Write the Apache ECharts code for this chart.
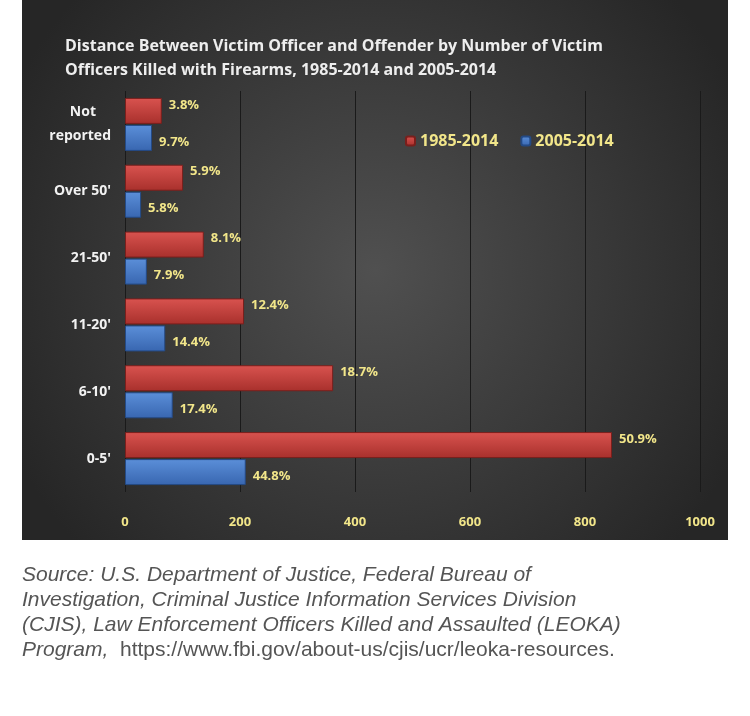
<!DOCTYPE html>
<html><head><meta charset="utf-8">
<script src="https://cdn.jsdelivr.net/npm/echarts@6/dist/echarts.min.js"></script>
<style>html,body{margin:0;background:#fff}#c{width:750px;height:716px}</style>
</head><body><div id="c"></div>
<script>
// data
const categories = ["0-5'", "6-10'", "11-20'", "21-50'", "Over 50'", "Not\nreported"];
const values8514 = [847, 362, 207, 137, 101, 64];
const values0514 = [210, 83, 70, 38, 28, 47];
const pct8514 = ["50.9%", "18.7%", "12.4%", "8.1%", "5.9%", "3.8%"];
const pct0514 = ["44.8%", "17.4%", "14.4%", "7.9%", "5.8%", "9.7%"];
const xTicks = [0, 200, 400, 600, 800, 1000];

const chart = echarts.init(document.getElementById("c"));

function labelFor(pcts) {
    return {
        show: true, position: "right", offset: [2, -6],
        color: "#f2e68a", fontWeight: "bold", fontSize: 13,
        fontFamily: "Open Sans",
        formatter: p => pcts[p.dataIndex]
    };
}

chart.setOption({
    backgroundColor: "#fff",
    graphic: [
        { type: "rect", z: -10, shape: { x: 22, y: 0, width: 706, height: 540 },
          style: { fill: { type: "radial", x: 0.5, y: 0.5, r: 0.75,
              colorStops: [{ offset: 0, color: "#505050" }, { offset: 1, color: "#262626" }] } } },
        { type: "text", left: 65, top: 34, style: {
            text: "Distance Between Victim Officer and Offender by Number of Victim\nOfficers Killed with Firearms, 1985-2014 and 2005-2014",
            fill: "#eeeeee", font: "bold 16px 'Open Sans'", lineHeight: 24 } },
        { type: "text", left: 22, top: 563, style: {
            text: "Source: U.S. Department of Justice, Federal Bureau of\nInvestigation, Criminal Justice Information Services Division\n(CJIS), Law Enforcement Officers Killed and Assaulted (LEOKA)\nProgram,",
            fill: "#555", font: "italic 21px 'Liberation Sans'", lineHeight: 25 } },
        { type: "text", left: 120, top: 640, style: {
            text: "https://www.fbi.gov/about-us/cjis/ucr/leoka-resources.",
            fill: "#555", font: "21px 'Liberation Sans'" } }
    ],
    legend: {
        top: 128, left: 400, itemWidth: 9, itemHeight: 9, itemGap: 22,
        textStyle: { color: "#f2e68a", fontSize: 16, fontWeight: "bold", fontFamily: "Open Sans" },
        data: ["1985-2014", "2005-2014"]
    },
    grid: { left: 125, right: 50, top: 91, bottom: 224 },
    xAxis: {
        type: "value", min: 0, max: 1000, interval: 200,
        axisLine: { show: false }, axisTick: { show: false },
        splitLine: { lineStyle: { color: "#1a1a1a", width: 1 } },
        axisLabel: { color: "#f2e68a", fontWeight: "bold", fontSize: 13, fontFamily: "Open Sans", margin: 24,
            formatter: v => xTicks.includes(v) ? String(v) : "" }
    },
    yAxis: {
        type: "category", data: categories,
        axisLine: { show: false }, axisTick: { show: false },
        axisLabel: { color: "#f2f2f2", fontWeight: "bold", fontSize: 14, fontFamily: "Open Sans",
            margin: 14, align: "right", lineHeight: 24,
            formatter: v => v === "Not\nreported" ? "{c|Not}\nreported" : v,
            rich: { c: { color: "#f2f2f2", fontWeight: "bold", fontSize: 14, fontFamily: "Open Sans", padding: [0, 15, 0, 0] } } }
    },
    series: [
        { name: "1985-2014", type: "bar", data: values8514, barWidth: 26, barGap: "4%",
          itemStyle: { color: { type: "linear", x: 0, y: 0, x2: 0, y2: 1,
              colorStops: [{ offset: 0, color: "#d9534f" }, { offset: 1, color: "#a8302c" }] },
              borderColor: "#7a1f1c", borderWidth: 1 },
          label: labelFor(pct8514) },
        { name: "2005-2014", type: "bar", data: values0514, barWidth: 26,
          itemStyle: { color: { type: "linear", x: 0, y: 0, x2: 0, y2: 1,
              colorStops: [{ offset: 0, color: "#5b8fd9" }, { offset: 1, color: "#3866b0" }] },
              borderColor: "#244a85", borderWidth: 1 },
          label: Object.assign(labelFor(pct0514), { offset: [2, 4] }) }
    ]
});
</script></body></html>
